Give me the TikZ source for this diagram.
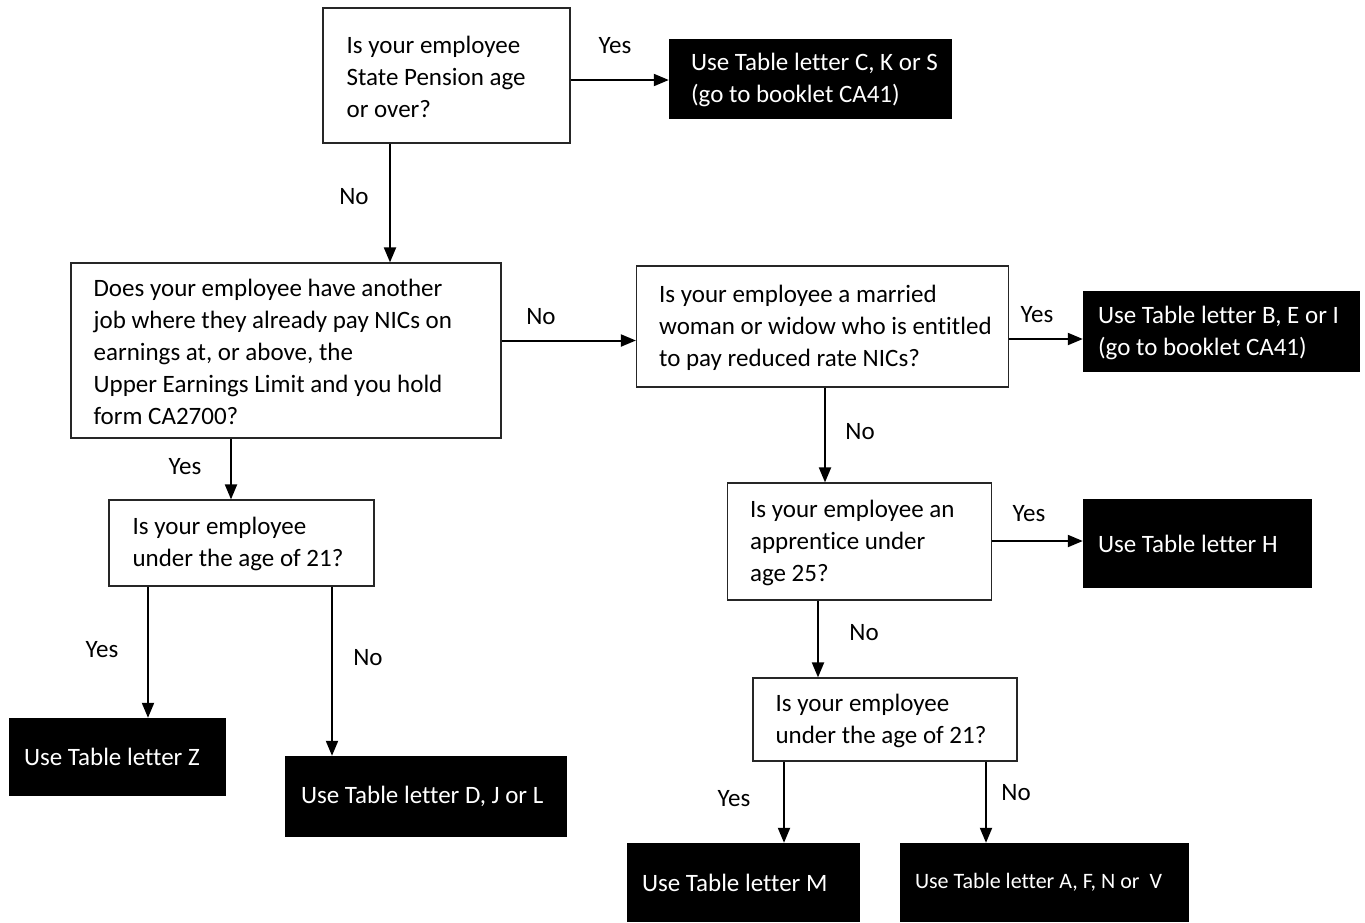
\documentclass[tikz,border=0pt]{standalone}
\usepackage{fontspec}
\setmainfont{Carlito}[Ligatures={NoCommon}]
\usetikzlibrary{arrows.meta}
\tikzset{
  qbox/.style={draw=black!85, line width=1.2pt, fill=white, inner sep=0pt},
  kbox/.style={fill=black, draw=none, inner sep=0pt},
  txt/.style={align=left, inner sep=0pt, font=\fontsize{25}{32}\selectfont},
  ktxt/.style={txt, text=white},
  lab/.style={inner sep=0pt, font=\fontsize{25}{32}\selectfont},
  arr/.style={line width=2pt, -{Triangle[length=15pt,width=12pt]}}
}
\begin{document}
\begin{tikzpicture}[x=1pt,y=-1pt]
\useasboundingbox (0,0) rectangle (1365,922);
% question boxes
\node[qbox, minimum width=247, minimum height=135] (q1) at (446.5,75.5) {};
\node[txt, anchor=west] (q1t) at ([xshift=24pt,yshift=-1pt]q1.west) {Is your employee\\State Pension age\\or over?};
\node[qbox, minimum width=430, minimum height=175] (q2) at (286,350.5) {};
\node[txt, anchor=west] (q2t) at ([xshift=23pt,yshift=-1pt]q2.west) {Does your employee have another\\job where they already pay NICs on\\earnings at, or above, the\\Upper Earnings Limit and you hold\\form CA2700?};
\node[qbox, minimum width=372, minimum height=121] (q3) at (822.5,326.5) {};
\node[txt, anchor=west] (q3t) at ([xshift=23pt,yshift=-1pt]q3.west) {Is your employee a married\\woman or widow who is entitled\\to pay reduced rate NICs?};
\node[qbox, minimum width=264, minimum height=117] (q4) at (859.5,541.5) {};
\node[txt, anchor=west] (q4t) at ([xshift=23pt,yshift=-1pt]q4.west) {Is your employee an\\apprentice under\\age 25?};
\node[qbox, minimum width=264, minimum height=83] (q5) at (885,719.5) {};
\node[txt, anchor=west] (q5t) at ([xshift=23pt,yshift=-1pt]q5.west) {Is your employee\\under the age of 21?};
\node[qbox, minimum width=265, minimum height=86] (q6) at (241.5,543) {};
\node[txt, anchor=west] (q6t) at ([xshift=24pt,yshift=-1pt]q6.west) {Is your employee\\under the age of 21?};
% result boxes
\node[kbox, minimum width=283, minimum height=80] (k1) at (810.5,79) {};
\node[ktxt, anchor=west] (k1t) at ([xshift=22pt,yshift=-1pt]k1.west) {Use Table letter C, K or S\\(go to booklet CA41)};
\node[kbox, minimum width=277, minimum height=81] (k2) at (1221.5,331.5) {};
\node[ktxt, anchor=west] (k2t) at ([xshift=15pt,yshift=-1pt]k2.west) {Use Table letter B, E or I\\(go to booklet CA41)};
\node[kbox, minimum width=229, minimum height=89] (k3) at (1197.5,543.5) {};
\node[ktxt, anchor=west] (k3t) at ([xshift=15pt]k3.west) {Use Table letter H};
\node[kbox, minimum width=233, minimum height=79] (k4) at (743.5,882.5) {};
\node[ktxt, anchor=west] (k4t) at ([xshift=15pt]k4.west) {Use Table letter M};
\node[kbox, minimum width=289, minimum height=79] (k5) at (1044.5,882.5) {};
\node[ktxt, anchor=west, font=\fontsize{22}{28}\selectfont] (k5t) at ([xshift=15pt]k5.west) {Use Table letter A, F, N or\ \ V};
\node[kbox, minimum width=217, minimum height=78] (k6) at (117.5,757) {};
\node[ktxt, anchor=west] (k6t) at ([xshift=15pt]k6.west) {Use Table letter Z};
\node[kbox, minimum width=282, minimum height=81] (k7) at (426,796.5) {};
\node[ktxt, anchor=west] (k7t) at ([xshift=16pt]k7.west) {Use Table letter D, J or L};
% connectors
\draw[arr] ([yshift=-4.5pt]q1.east) -- ([yshift=-4.5pt]q1.east -| k1.west);
\draw[arr] ([xshift=-56.5pt]q1.south) -- ([xshift=-56.5pt]q1.south |- q2.north);
\draw[arr] ([yshift=10pt]q2.east) -- ([yshift=10pt]q2.east -| q3.west);
\draw[arr] ([yshift=-12.5pt]q3.east) -- ([yshift=-12.5pt]q3.east -| k2.west);
\draw[arr] ([xshift=2.5pt]q3.south) -- ([xshift=2.5pt]q3.south |- q4.north);
\draw[arr] ([yshift=0.5pt]q4.east) -- ([yshift=0.5pt]q4.east -| k3.west);
\draw[arr] ([xshift=-41.5pt]q4.south) -- ([xshift=-41.5pt]q4.south |- q5.north);
\draw[arr] ([xshift=-101pt]q5.south) -- ([xshift=-101pt]q5.south |- k4.north);
\draw[arr] ([xshift=101pt]q5.south) -- ([xshift=101pt]q5.south |- k5.north);
\draw[arr] ([xshift=-55pt]q2.south) -- ([xshift=-55pt]q2.south |- q6.north);
\draw[arr] ([xshift=-93.5pt]q6.south) -- ([xshift=-93.5pt]q6.south |- k6.north);
\draw[arr] ([xshift=90.5pt]q6.south) -- ([xshift=90.5pt]q6.south |- k7.north);
% labels
\node[lab] (l1) at (615,46) {Yes};
\node[lab] (l2) at (354,197) {No};
\node[lab] (l3) at (541,317) {No};
\node[lab] (l4) at (1037,315) {Yes};
\node[lab] (l5) at (860,432) {No};
\node[lab] (l6) at (1029,514) {Yes};
\node[lab] (l7) at (864,633) {No};
\node[lab] (l8) at (734,799) {Yes};
\node[lab] (l9) at (1016,793) {No};
\node[lab] (l10) at (185,467) {Yes};
\node[lab] (l11) at (102,650) {Yes};
\node[lab] (l12) at (368,658) {No};
\end{tikzpicture}
\end{document}
